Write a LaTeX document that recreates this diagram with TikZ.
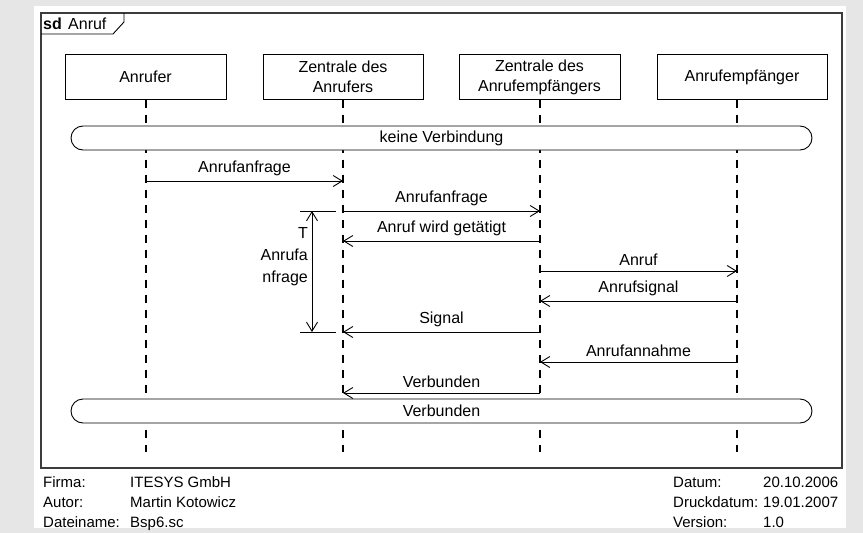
\documentclass[tikz,border=0pt]{standalone}
\usepackage{fontspec}
\setmainfont{Liberation Sans}
\usetikzlibrary{arrows.meta}
\definecolor{pagegray}{RGB}{230,230,230}
\definecolor{framegray}{RGB}{60,60,60}
\begin{document}
\begin{tikzpicture}[x=1pt,y=-1pt,
  txt/.style={font=\fontsize{16pt}{20pt}\selectfont, inner sep=0pt},
  head/.style={txt, draw, line width=0.9pt, align=center, minimum height=45pt},
  lifeline/.style={line width=1.8pt, dash pattern=on 8pt off 7pt},
  band/.style={txt, draw, fill=white, line width=0.9pt, rounded corners=12pt,
    minimum width=741pt, minimum height=24pt},
  msg/.style={line width=0.9pt, -{Straight Barb[length=9pt,width=11pt,line width=0.9pt]}},
  lbl/.style={txt, above=5pt},
  foot/.style={font=\fontsize{15pt}{20pt}\selectfont, inner sep=0pt, anchor=base west}]

  % page and frame
  \fill[pagegray] (0,0) rectangle (863,533);
  \fill[white] (34,6) rectangle (846,528);
  \draw[framegray, line width=1.3pt] (41,13) rectangle (842,468);
  \draw[line width=0.9pt] (41,34) -- (113,34) -- (124,22) -- (124,13);
  \node[txt, anchor=base west] (sd) at (43,29) {\textbf{sd}};
  \node[txt, anchor=base west] (sdname) at (68,29) {Anruf};

  % lifeline heads
  \node[head, minimum width=161pt] (a) at (145.5,77) {Anrufer};
  \node[head, minimum width=160pt] (b) at (343,77) {Zentrale des\\Anrufers};
  \node[head, minimum width=161pt] (c) at (539.5,77) {Zentrale des\\Anrufempfängers};
  \node[head, minimum width=170pt] (d) at (742,77) {Anrufempfänger};

  % lifeline axes
  \coordinate (la) at (146,99.5);
  \coordinate (lb) at (343,99.5);
  \coordinate (lc) at (540,99.5);
  \coordinate (ld) at (737,99.5);
  \coordinate (bottom) at (0,452);
  \foreach \l in {la,lb,lc,ld}
    \draw[lifeline] (\l) -- (\l |- bottom);

  % state bands
  \node[band] (none) at (441.5,138) {keine Verbindung};
  \node[band] (conn) at (441.5,411) {Verbunden};

  % messages
  \draw[msg] (la |- 0,181) -- node[lbl] {Anrufanfrage} (lb |- 0,181);
  \draw[msg] (lb |- 0,211) -- node[lbl] {Anrufanfrage} (lc |- 0,211);
  \draw[msg] (lc |- 0,241) -- node[lbl] {Anruf wird getätigt} (lb |- 0,241);
  \draw[msg] (lc |- 0,271) -- node[lbl] {Anruf} (ld |- 0,271);
  \draw[msg] (ld |- 0,301) -- node[lbl] {Anrufsignal} (lc |- 0,301);
  \draw[msg] (lc |- 0,332) -- node[lbl] {Signal} (lb |- 0,332);
  \draw[msg] (ld |- 0,362) -- node[lbl] {Anrufannahme} (lc |- 0,362);
  \draw[msg] (lc |- 0,393) -- node[lbl] {Verbunden} (lb |- 0,393);

  % duration constraint
  \coordinate (t1) at (300,211);
  \coordinate (t2) at (300,332);
  \draw[line width=0.9pt] (t1) -- ++(36,0);
  \draw[line width=0.9pt] (t2) -- ++(36,0);
  \draw[line width=0.9pt, {Straight Barb[length=9pt,width=11pt,line width=0.9pt]}-{Straight Barb[length=9pt,width=11pt,line width=0.9pt]}]
    ([xshift=12pt]t1) -- ([xshift=12pt]t2);
  \node[txt, align=right, anchor=east, font=\fontsize{16pt}{22pt}\selectfont] (dur) at (308,257) {T\\Anrufa\\nfrage};

  % footer
  \node[foot] (f1) at (43,487) {Firma:};
  \node[foot] (f2) at (43,507) {Autor:};
  \node[foot] (f3) at (43,527) {Dateiname:};
  \node[foot] (v1) at (130,487) {ITESYS GmbH};
  \node[foot] (v2) at (130,507) {Martin Kotowicz};
  \node[foot] (v3) at (130,527) {Bsp6.sc};
  \node[foot] (g1) at (673,487) {Datum:};
  \node[foot] (g2) at (673,507) {Druckdatum:};
  \node[foot] (g3) at (673,527) {Version:};
  \node[foot] (w1) at (763,487) {20.10.2006};
  \node[foot] (w2) at (763,507) {19.01.2007};
  \node[foot] (w3) at (763,527) {1.0};
\end{tikzpicture}
\end{document}
